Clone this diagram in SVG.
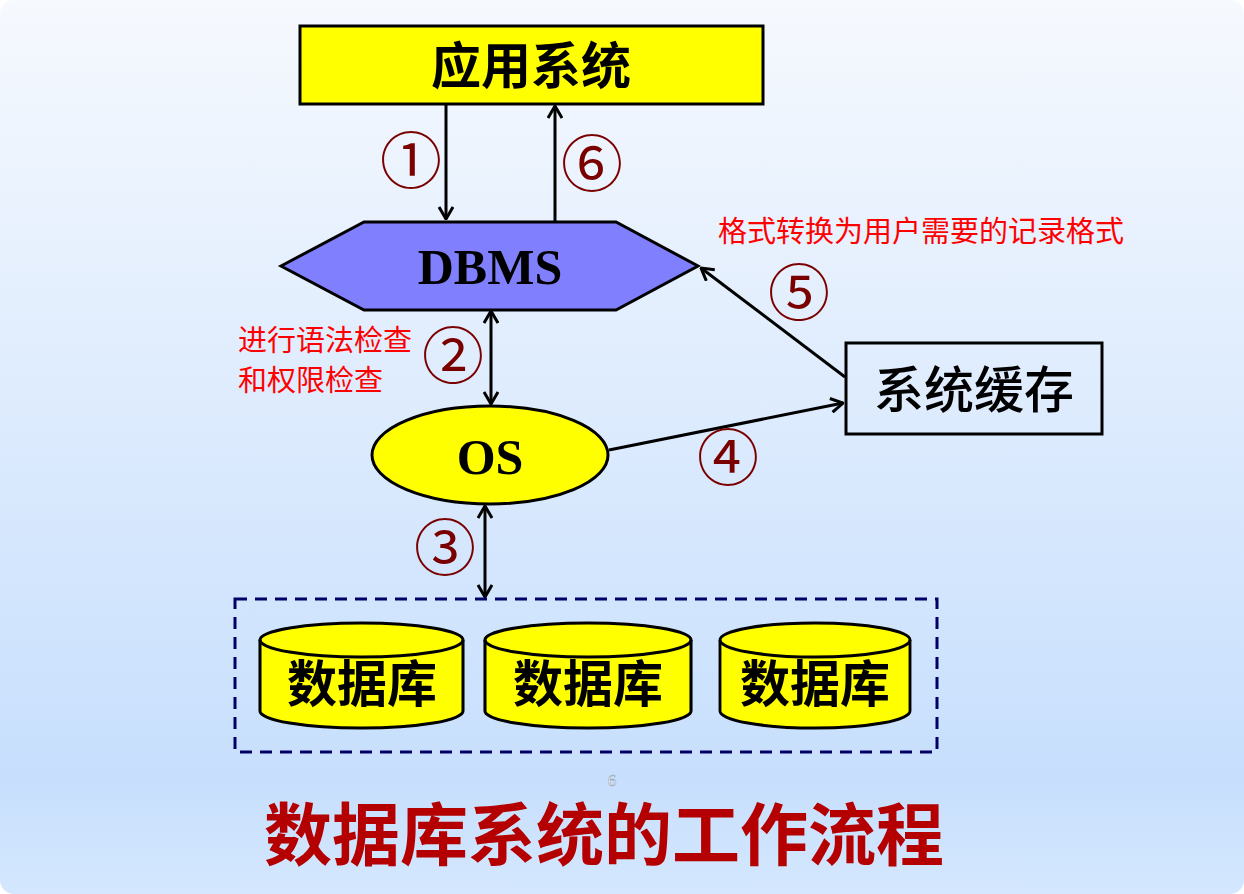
<svg xmlns="http://www.w3.org/2000/svg" width="1244" height="894" viewBox="0 0 1244 894">
<defs>
<linearGradient id="bg" x1="0" y1="0" x2="0" y2="1">
<stop offset="0" stop-color="#f6f9fe"/>
<stop offset="0.87" stop-color="#c7dffd"/>
<stop offset="1" stop-color="#d4e7fe"/>
</linearGradient>
<marker id="ah" viewBox="0 0 14 16" refX="13" refY="8" markerWidth="14" markerHeight="16" markerUnits="userSpaceOnUse" orient="auto-start-reverse">
<path d="M1,1 L13,8 L1,15" fill="none" stroke="#000" stroke-width="3" stroke-linejoin="miter"/>
</marker>
<path id="cyl" d="M-100,0 A100,17 0 0 1 100,0 L100,71 A100,17 0 0 1 -100,71 Z"/>
</defs>
<style>
.ln{stroke:#000;stroke-width:3;fill:none}
.num{font-family:"DejaVu Serif","Noto Sans CJK SC",serif;font-size:62px;fill:#7a0000;text-anchor:middle;dominant-baseline:central}
.red{font-family:"Noto Sans CJK SC",sans-serif;font-size:29px;fill:#ff0000}
.cjk{font-family:"Noto Sans CJK SC",sans-serif;font-size:50px;fill:#000;text-anchor:middle;font-weight:bold}
.lat{font-family:"Liberation Serif",serif;font-weight:bold;font-size:50px;fill:#000;text-anchor:middle}
.shape{stroke:#000;stroke-width:3}
</style>
<rect x="0" y="0" width="1244" height="894" fill="#ffffff"/>
<rect x="0" y="0" width="1244" height="894" rx="14" fill="url(#bg)"/>

<g id="connectors">
<line class="ln" x1="446" y1="105" x2="446" y2="219" marker-end="url(#ah)"/>
<line class="ln" x1="555" y1="221" x2="555" y2="106" marker-end="url(#ah)"/>
<line class="ln" x1="491" y1="311" x2="491" y2="404" marker-start="url(#ah)" marker-end="url(#ah)"/>
<line class="ln" x1="485" y1="506" x2="485" y2="597" marker-start="url(#ah)" marker-end="url(#ah)"/>
<line class="ln" x1="609" y1="450" x2="843" y2="403" marker-end="url(#ah)"/>
<line class="ln" x1="845" y1="377" x2="701" y2="268" marker-end="url(#ah)"/>
<text class="num" x="411" y="162">①</text>
<text class="num" x="592" y="165">⑥</text>
<text class="num" x="453" y="357">②</text>
<text class="num" x="445" y="549">③</text>
<text class="num" x="728" y="459">④</text>
<text class="num" x="799" y="294">⑤</text>
</g>

<g id="app">
<rect class="shape" x="300" y="26" width="463" height="78" fill="#ffff00"/>
<text class="cjk" x="531" y="84">应用系统</text>
</g>

<g id="dbms">
<polygon class="shape" points="281,266 364,222 616,222 698,266 616,310 364,310" fill="#8080ff"/>
<text class="lat" x="490" y="284">DBMS</text>
</g>

<g id="os">
<ellipse class="shape" cx="490" cy="455" rx="118" ry="49" fill="#ffff00"/>
<text class="lat" x="490" y="474">OS</text>
</g>

<g id="cache">
<rect class="shape" x="846" y="343" width="256" height="91" fill="none"/>
<text class="cjk" x="974" y="408" style="font-weight:500">系统缓存</text>
</g>

<g id="note-check">
<text class="red" x="238" y="351">进行语法检查</text>
<text class="red" x="238" y="391">和权限检查</text>
</g>

<g id="note-format">
<text class="red" x="718" y="242">格式转换为用户需要的记录格式</text>
</g>

<g id="storage">
<rect x="235" y="599" width="702" height="153" fill="none" stroke="#000066" stroke-width="3" stroke-dasharray="12,8"/>
<g id="db1">
<use href="#cyl" transform="translate(361.5,640) scale(1.015,1)" fill="#ffff00" stroke="#000" stroke-width="3"/>
<path d="M-100,0 A100,17 0 0 0 100,0" transform="translate(361.5,640) scale(1.015,1)" fill="none" stroke="#000" stroke-width="3"/>
<text class="cjk" x="362" y="702">数据库</text>
</g>
<g id="db2">
<use href="#cyl" transform="translate(588,640) scale(1.03,1)" fill="#ffff00" stroke="#000" stroke-width="3"/>
<path d="M-100,0 A100,17 0 0 0 100,0" transform="translate(588,640) scale(1.03,1)" fill="none" stroke="#000" stroke-width="3"/>
<text class="cjk" x="588" y="702">数据库</text>
</g>
<g id="db3">
<use href="#cyl" transform="translate(815,640) scale(0.95,1)" fill="#ffff00" stroke="#000" stroke-width="3"/>
<path d="M-100,0 A100,17 0 0 0 100,0" transform="translate(815,640) scale(0.95,1)" fill="none" stroke="#000" stroke-width="3"/>
<text class="cjk" x="815" y="702">数据库</text>
</g>
</g>

<text x="612" y="786" font-family="Liberation Serif, serif" font-size="17" fill="#ffffff" stroke="#9aa6b4" stroke-width="0.6" text-anchor="middle">6</text>

<g id="title">
<text x="604" y="860" font-family="Noto Sans CJK SC, sans-serif" font-size="68" font-weight="bold" fill="#b40000" text-anchor="middle">数据库系统的工作流程</text>
</g>
</svg>
